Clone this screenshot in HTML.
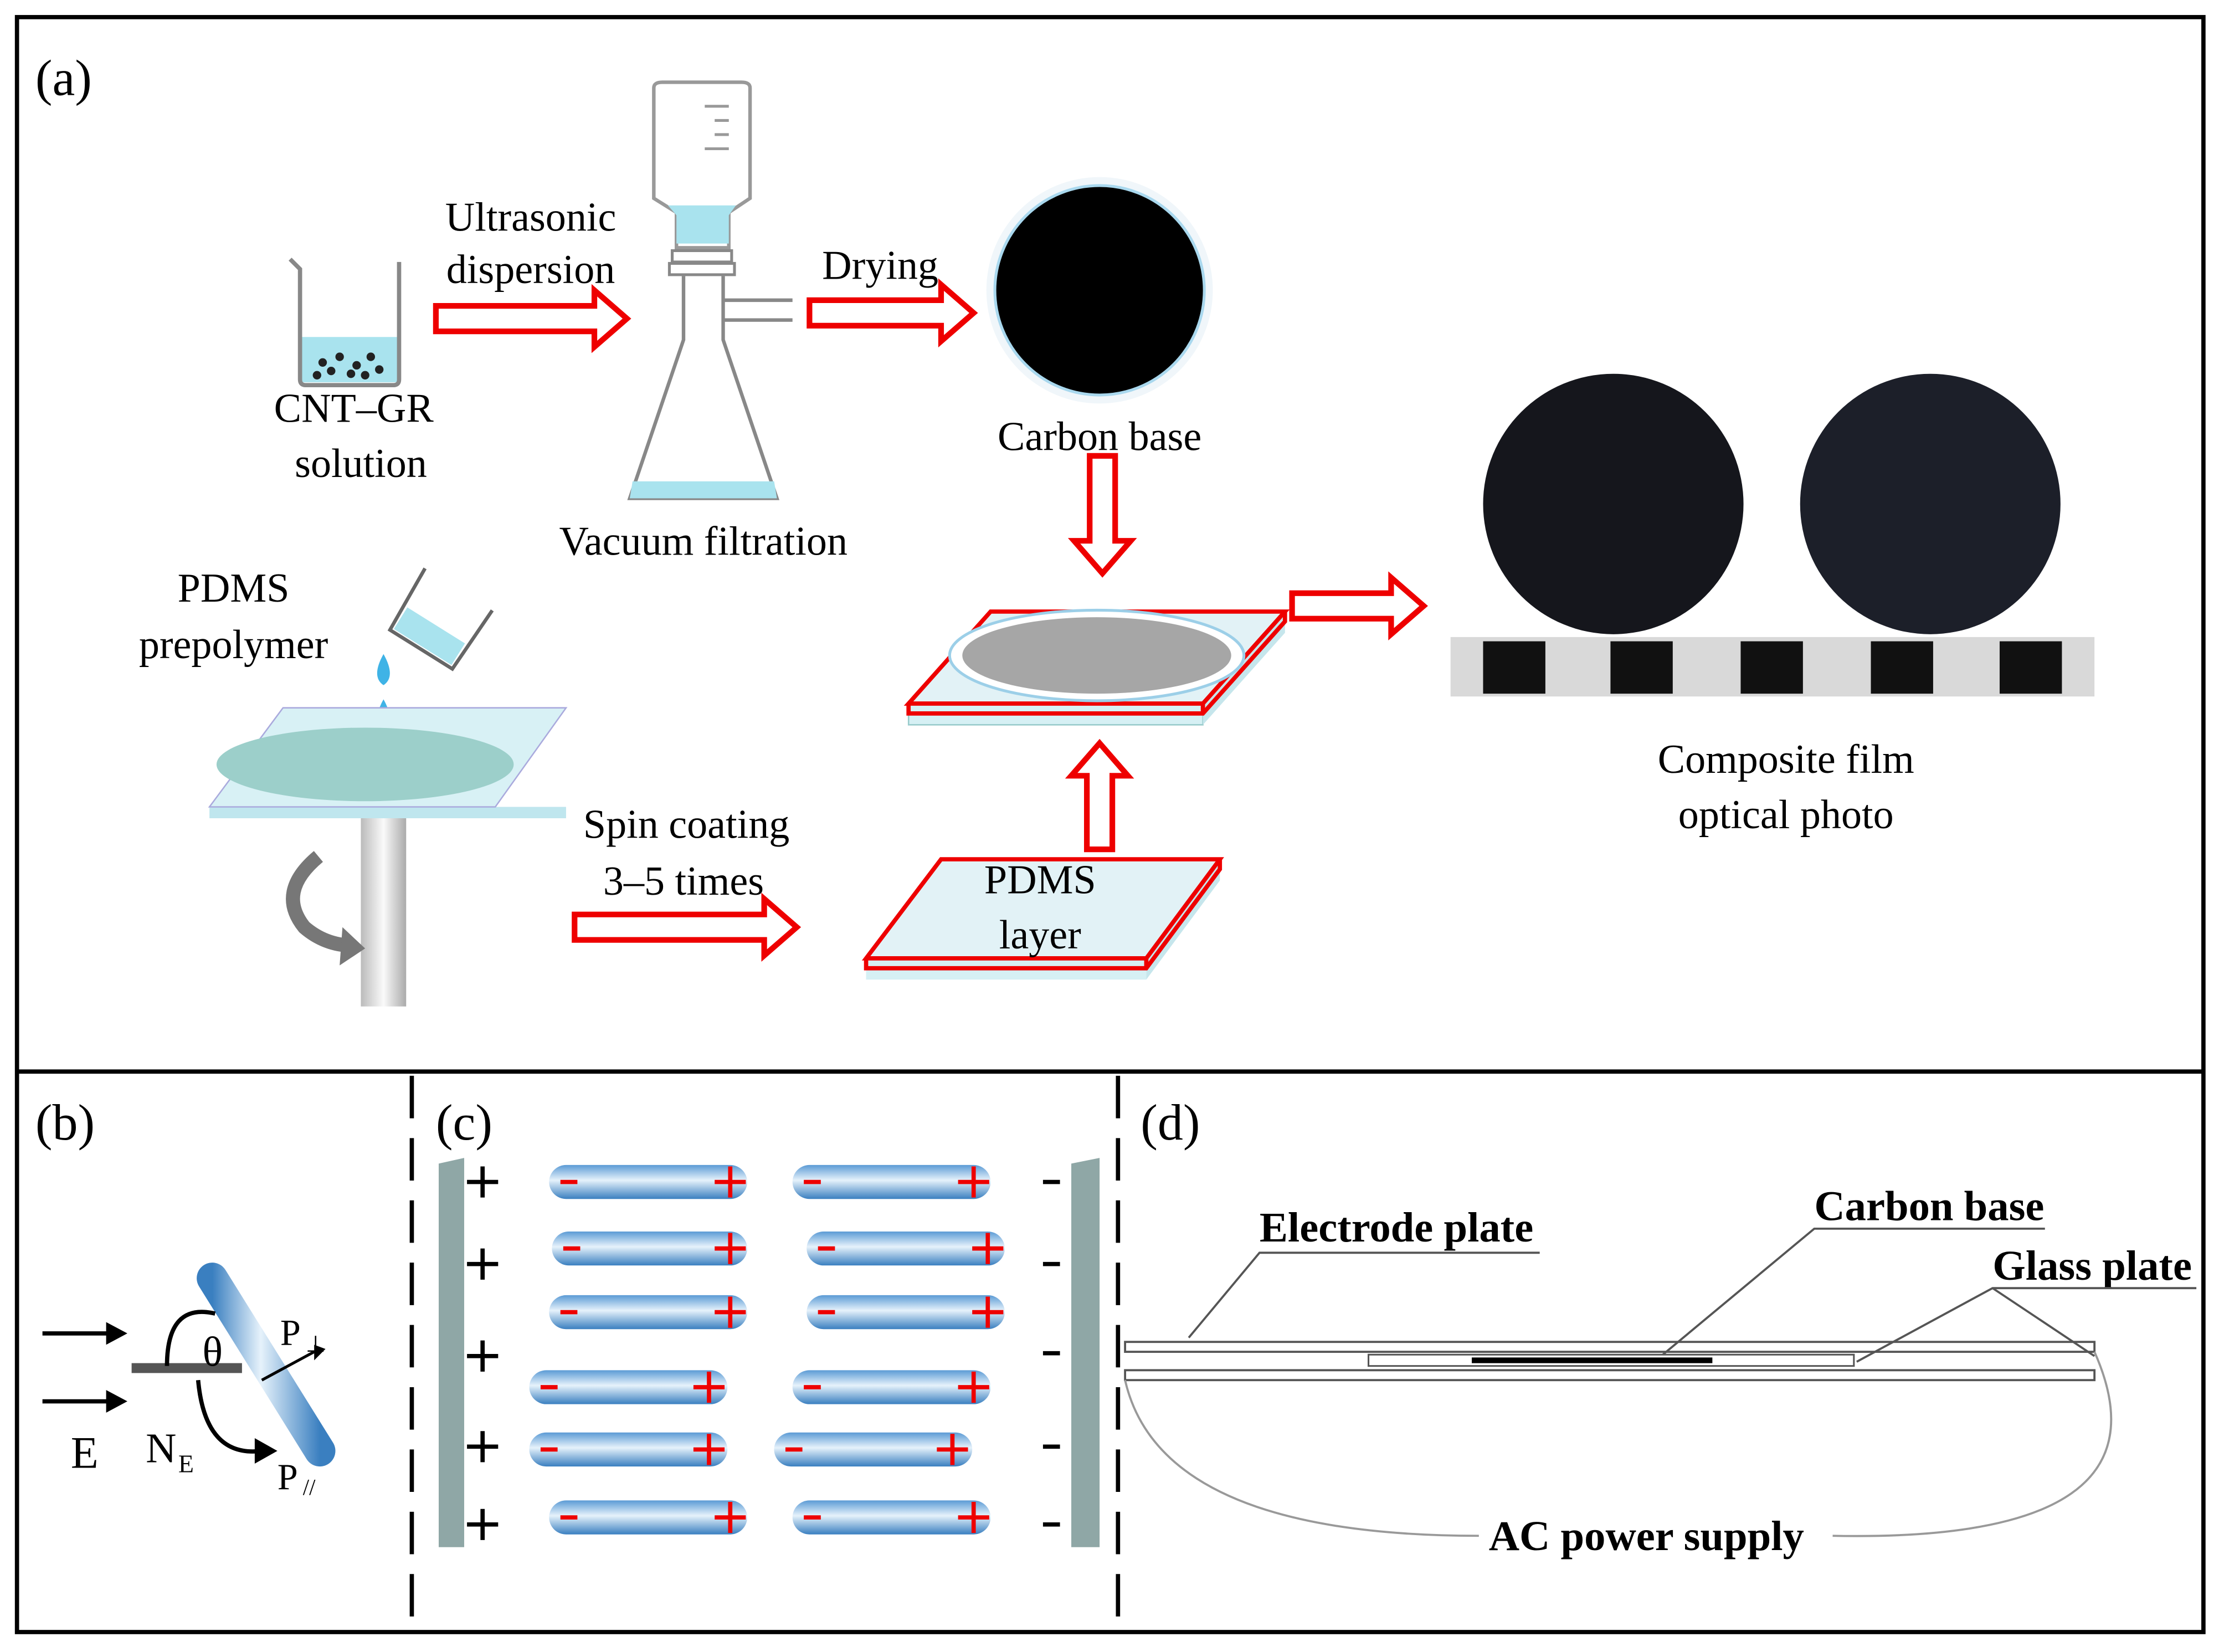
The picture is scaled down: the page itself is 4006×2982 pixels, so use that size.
<!DOCTYPE html>
<html><head><meta charset="utf-8"><style>html,body{margin:0;padding:0;background:#fff}svg{display:block}text{font-family:"Liberation Serif",serif;fill:#000}</style></head><body>
<svg width="4006" height="2982" viewBox="0 0 1568 1167" xmlns="http://www.w3.org/2000/svg">
<defs>
<linearGradient id="rod" x1="0" y1="0" x2="0" y2="1"><stop offset="0" stop-color="#5b9bd5"/><stop offset="0.45" stop-color="#e6f2fb"/><stop offset="1" stop-color="#3a7fc0"/></linearGradient>
<linearGradient id="rodb" x1="0" y1="0" x2="1" y2="0"><stop offset="0" stop-color="#3a7fc0"/><stop offset="0.45" stop-color="#e6f2fb"/><stop offset="1" stop-color="#3a7fc0"/></linearGradient>
<linearGradient id="pole" x1="0" y1="0" x2="1" y2="0"><stop offset="0" stop-color="#bbb"/><stop offset="0.5" stop-color="#fafafa"/><stop offset="1" stop-color="#aaa"/></linearGradient>
</defs>
<rect x="12" y="12" width="1545" height="1141" fill="none" stroke="#000" stroke-width="3"/>
<line x1="12" y1="757" x2="1557" y2="757" stroke="#000" stroke-width="3"/>
<line x1="291" y1="760" x2="291" y2="1153" stroke="#000" stroke-width="3" stroke-dasharray="30,14"/>
<line x1="790" y1="760" x2="790" y2="1153" stroke="#000" stroke-width="3" stroke-dasharray="30,14"/>
<g font-size="36"><text x="25" y="67">(a)</text><text x="25" y="805">(b)</text><text x="308" y="805">(c)</text><text x="806" y="805">(d)</text></g>
<!-- beaker -->
<rect x="213" y="238" width="68" height="32" fill="#a9e3ee"/>
<path d="M205 183 L212 190 L212 268 Q212 272 216 272 L278 272 Q282 272 282 268 L282 185" fill="none" stroke="#888" stroke-width="3"/>
<g fill="#222"><circle cx="228" cy="256" r="3"/><circle cx="240" cy="252" r="3"/><circle cx="252" cy="258" r="3"/><circle cx="262" cy="252" r="3"/><circle cx="234" cy="262" r="3"/><circle cx="248" cy="264" r="3"/><circle cx="268" cy="261" r="3"/><circle cx="224" cy="265" r="3"/><circle cx="258" cy="265" r="3"/></g>
<!-- red hollow arrows -->
<g fill="#fff" stroke="#e00" stroke-width="4">
<path d="M308 216 L420 216 L420 205 L443 225 L420 245 L420 234 L308 234 Z"/>
<path d="M572 212 L665 212 L665 201 L688 221 L665 241 L665 230 L572 230 Z"/>
<path d="M913 419 L983 419 L983 408 L1006 428 L983 448 L983 437 L913 437 Z"/>
<path d="M406 646 L540 646 L540 635 L563 655 L540 675 L540 664 L406 664 Z"/>
<path d="M770 322 L788 322 L788 382 L799 382 L779 405 L759 382 L770 382 Z"/>
<path d="M768 600 L786 600 L786 548 L797 548 L777 525 L757 548 L768 548 Z"/>
</g>
<!-- flask -->
<path d="M462 62 Q462 58 468 58 L524 58 Q530 58 530 62 L530 140 L515 150 L515 175 L478 175 L478 150 L462 140 Z" fill="#fff" stroke="#999" stroke-width="2.5"/>
<path d="M472 145 L520 145 L515 152 L515 172 L478 172 L478 152 Z" fill="#a9e3ee"/>
<g stroke="#999" stroke-width="2"><line x1="498" y1="75" x2="515" y2="75"/><line x1="505" y1="85" x2="515" y2="85"/><line x1="505" y1="95" x2="515" y2="95"/><line x1="498" y1="105" x2="515" y2="105"/></g>
<rect x="475" y="177" width="42" height="8" fill="#fff" stroke="#888" stroke-width="2"/><rect x="473" y="186" width="46" height="8" fill="#fff" stroke="#888" stroke-width="2"/>
<path d="M483 195 L483 240 L445 352 L549 352 L511 240 L511 195" fill="none" stroke="#888" stroke-width="2.5"/>
<path d="M511 212 L560 212 M511 226 L560 226" stroke="#888" stroke-width="2.5"/>
<path d="M447 340 L547 340 L549 352 L445 352 Z" fill="#a9e3ee"/>
<!-- carbon disc -->
<circle cx="777" cy="205" r="80" fill="#f0f6fa"/><circle cx="777" cy="205" r="74" fill="#000" stroke="#a9d8ee" stroke-width="2"/>
<!-- composite plate -->
<path d="M642 497 L850 497 L850 512 L642 512 Z" fill="#d6f0f4" stroke="#9cc" stroke-width="1"/>
<path d="M850 497 L908 432 L908 447 L850 512 Z" fill="#c6e6ec"/>
<path d="M642 497 L700 432 L908 432 L850 497 Z" fill="#e2f2f6" stroke="#e00" stroke-width="3"/>
<path d="M642 497 L642 504 L850 504 L908 439 L908 432 M850 497 L850 504" fill="none" stroke="#e00" stroke-width="3"/>
<ellipse cx="775" cy="463" rx="104" ry="32" fill="#fff" stroke="#9ccfe8" stroke-width="2"/>
<ellipse cx="775" cy="463" rx="95" ry="27" fill="#a6a6a6"/>
<!-- PDMS layer plate -->
<path d="M612 677 L810 677 L810 692 L612 692 Z" fill="#d6f0f4"/>
<path d="M810 677 L862 607 L862 622 L810 692 Z" fill="#c6e6ec"/>
<path d="M612 677 L665 607 L862 607 L810 677 Z" fill="#e2f2f6" stroke="#e00" stroke-width="3"/>
<path d="M612 677 L612 684 L810 684 L862 614 L862 607 M810 677 L810 684" fill="none" stroke="#e00" stroke-width="3"/>
<!-- prepolymer pour -->
<g transform="rotate(32 310 437)"><path d="M283 412 L285 462 L337 462 L339 412" fill="#fff" stroke="#666" stroke-width="2.5"/><rect x="287" y="442" width="48" height="18" fill="#a9e3ee"/></g>
<path d="M271 462 Q262 478 271 484 Q280 478 271 462 Z" fill="#3fb3e6"/><path d="M271 494 Q263 508 271 514 Q279 508 271 494 Z" fill="#3fb3e6"/>
<!-- spin coater -->
<rect x="255" y="578" width="32" height="133" fill="url(#pole)"/>
<path d="M148 570 L400 570 L400 578 L148 578 Z" fill="#bfe6ee"/>
<path d="M148 570 L200 500 L400 500 L350 570 Z" fill="#d8f1f5" stroke="#aad" stroke-width="1"/>
<ellipse cx="258" cy="540" rx="105" ry="26" fill="#9ccfca"/>
<path d="M225 605 Q195 630 215 655 Q230 668 250 668" fill="none" stroke="#777" stroke-width="10"/><path d="M242 655 L258 670 L240 682 Z" fill="#777"/>
<!-- photo -->
<rect x="1025" y="450" width="455" height="42" fill="#d9d9d9"/>
<g fill="#111"><rect x="1048" y="453" width="44" height="37"/><rect x="1138" y="453" width="44" height="37"/><rect x="1230" y="453" width="44" height="37"/><rect x="1322" y="453" width="44" height="37"/><rect x="1413" y="453" width="44" height="37"/></g>
<circle cx="1140" cy="356" r="92" fill="#15161c"/><circle cx="1364" cy="356" r="92" fill="#1c1f29"/>
<g font-size="29" text-anchor="middle"><text x="250" y="298">CNT–GR</text><text x="255" y="337">solution</text>
<text x="375" y="163">Ultrasonic</text><text x="375" y="200">dispersion</text><text x="622" y="197">Drying</text>
<text x="777" y="318">Carbon base</text><text x="497" y="392">Vacuum filtration</text>
<text x="165" y="425">PDMS</text><text x="165" y="465">prepolymer</text>
<text x="485" y="592">Spin coating</text><text x="483" y="632">3–5 times</text>
<text x="735" y="631">PDMS</text><text x="735" y="670">layer</text>
<text x="1262" y="546">Composite film</text><text x="1262" y="585">optical photo</text></g>
<!-- panel b -->
<g stroke="#000" stroke-width="3"><line x1="30" y1="942" x2="78" y2="942"/><line x1="30" y1="990" x2="78" y2="990"/></g>
<path d="M75 934 L90 942 L75 950 Z M75 982 L90 990 L75 998 Z"/>
<text x="50" y="1037" font-size="32">E</text>
<rect x="93" y="963" width="78" height="7" fill="#555"/>
<line x1="150" y1="903" x2="226" y2="1025" stroke="url(#rodb)" stroke-width="22" stroke-linecap="round"/>
<path d="M118 965 Q118 920 152 928" fill="none" stroke="#000" stroke-width="3"/>
<text x="143" y="965" font-size="30">θ</text>
<line x1="185" y1="975" x2="222" y2="955" stroke="#000" stroke-width="2"/><path d="M222 950 L230 953 L222 961 Z"/>
<text x="198" y="950" font-size="26">P</text><text x="216" y="955" font-size="16">⊥</text>
<path d="M140 975 Q145 1030 185 1025" fill="none" stroke="#000" stroke-width="3"/><path d="M180 1016 L196 1025 L180 1034 Z"/>
<text x="103" y="1033" font-size="30">N</text><text x="126" y="1040" font-size="18">E</text>
<text x="196" y="1052" font-size="26">P</text><text x="214" y="1056" font-size="16">//</text>
<!-- panel c -->
<path d="M310 822 L328 818 L328 1093 L310 1093 Z" fill="#8fa7a6"/>
<path d="M757 822 L777 818 L777 1093 L757 1093 Z" fill="#8fa7a6"/>
<g stroke="#000" stroke-width="3">
<path d="M330 835h22M341 824v22M330 893h22M341 882v22M330 958h22M341 947v22M330 1022h22M341 1011v22M330 1077h22M341 1066v22"/>
<path d="M737 835h12M737 893h12M737 956h12M737 1022h12M737 1077h12"/>
</g>
<rect x="388" y="823" width="140" height="24" rx="12" fill="url(#rod)"/><rect x="560" y="823" width="140" height="24" rx="12" fill="url(#rod)"/>
<rect x="390" y="870" width="138" height="24" rx="12" fill="url(#rod)"/><rect x="570" y="870" width="140" height="24" rx="12" fill="url(#rod)"/>
<rect x="388" y="915" width="140" height="24" rx="12" fill="url(#rod)"/><rect x="570" y="915" width="140" height="24" rx="12" fill="url(#rod)"/>
<rect x="374" y="968" width="140" height="24" rx="12" fill="url(#rod)"/><rect x="560" y="968" width="140" height="24" rx="12" fill="url(#rod)"/>
<rect x="374" y="1012" width="140" height="24" rx="12" fill="url(#rod)"/><rect x="547" y="1012" width="140" height="24" rx="12" fill="url(#rod)"/>
<rect x="388" y="1060" width="140" height="24" rx="12" fill="url(#rod)"/><rect x="560" y="1060" width="140" height="24" rx="12" fill="url(#rod)"/>
<g stroke="#e00" stroke-width="3">
<path d="M396 835h12M505 835h22M516 824v22M568 835h12M677 835h22M688 824v22"/>
<path d="M398 882h12M505 882h22M516 871v22M578 882h12M687 882h22M698 871v22"/>
<path d="M396 927h12M505 927h22M516 916v22M578 927h12M687 927h22M698 916v22"/>
<path d="M382 980h12M490 980h22M501 969v22M568 980h12M677 980h22M688 969v22"/>
<path d="M382 1024h12M490 1024h22M501 1013v22M555 1024h12M662 1024h22M673 1013v22"/>
<path d="M396 1072h12M505 1072h22M516 1061v22M568 1072h12M677 1072h22M688 1061v22"/>
</g>
<!-- panel d -->
<rect x="795" y="948" width="685" height="7" fill="#fff" stroke="#555" stroke-width="1.5"/>
<rect x="967" y="957" width="343" height="8" fill="#fff" stroke="#555" stroke-width="1.2"/>
<line x1="1040" y1="961" x2="1210" y2="961" stroke="#000" stroke-width="4"/>
<rect x="795" y="968" width="685" height="7" fill="#fff" stroke="#555" stroke-width="1.5"/>
<g font-size="30" font-weight="bold"><text x="890" y="877">Electrode plate</text><text x="1282" y="862">Carbon base</text><text x="1408" y="904">Glass plate</text><text x="1052" y="1095">AC power supply</text></g>
<g stroke="#555" stroke-width="1.5" fill="none">
<path d="M1088 885 L890 885 L840 945"/><path d="M1445 868 L1282 868 L1175 957"/><path d="M1552 910 L1408 910 L1312 962 M1408 910 L1480 958"/>
</g>
<g stroke="#999" stroke-width="1.5" fill="none">
<path d="M795 975 Q820 1085 1045 1085"/><path d="M1480 955 Q1540 1090 1295 1085"/>
</g>
</svg>
</body></html>
